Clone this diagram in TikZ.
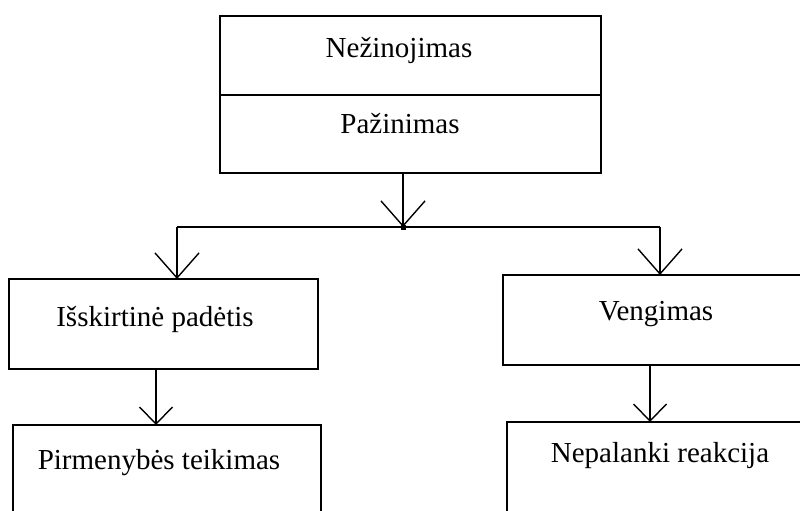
\documentclass[tikz,border=0pt]{standalone}
\usepackage{fontspec}
\setmainfont{Liberation Serif}
\usetikzlibrary{arrows.meta}
\begin{document}
\begin{tikzpicture}[x=1pt,y=-1pt, line width=1.4pt,
  box/.style={draw, rectangle, inner sep=0pt, outer sep=0pt},
  lbl/.style={anchor=base, inner sep=0pt, font=\fontsize{29}{34}\selectfont},
  big/.style={-{Straight Barb[length=25pt,width=44pt]}},
  small/.style={-{Straight Barb[length=17pt,width=33pt]}}]
\useasboundingbox (0,0) rectangle (800,511);
% boxes
\node[box, minimum width=381pt, minimum height=79pt] (nez) at (410.5,55.5) {};
\node[box, minimum width=381pt, minimum height=78pt] (paz) at (410.5,134) {};
\node[box, minimum width=309pt, minimum height=90pt] (isk) at (163.5,324) {};
\node[box, minimum width=308pt, minimum height=90pt] (pir) at (167,470) {};
\node[box, minimum width=310pt, minimum height=90pt] (ven) at (658,320) {};
\node[box, minimum width=306pt, minimum height=93pt] (nep) at (660,468.5) {};
% texts
\node[lbl] (t1) at (399,58) {Nežinojimas};
\node[lbl] (t2) at (400,133) {Pažinimas};
\node[lbl] (t3) at (155,326) {Išskirtinė padėtis};
\node[lbl] (t4) at (159,469) {Pirmenybės teikimas};
\node[lbl] (t5) at (656,320) {Vengimas};
\node[lbl] (t6) at (660,462) {Nepalanki reakcija};
% connectors
\coordinate (j) at (403,227);
\coordinate (jl) at (177,227);
\coordinate (jr) at (660,227);
\coordinate (al) at (156,0);
\coordinate (ar) at (650,0);
\draw[big] (paz.south -| j) -- (j);
\fill (j) ++(-2.5,-2.5) rectangle ++(5,5);
\draw (jl) -- (jr);
\draw[big] (jl) -- (jl |- isk.north);
\draw[big] (jr) -- (jr |- ven.north);
\draw[small] (isk.south -| al) -- (pir.north -| al);
\draw[small] (ven.south -| ar) -- (nep.north -| ar);
\end{tikzpicture}
\end{document}
